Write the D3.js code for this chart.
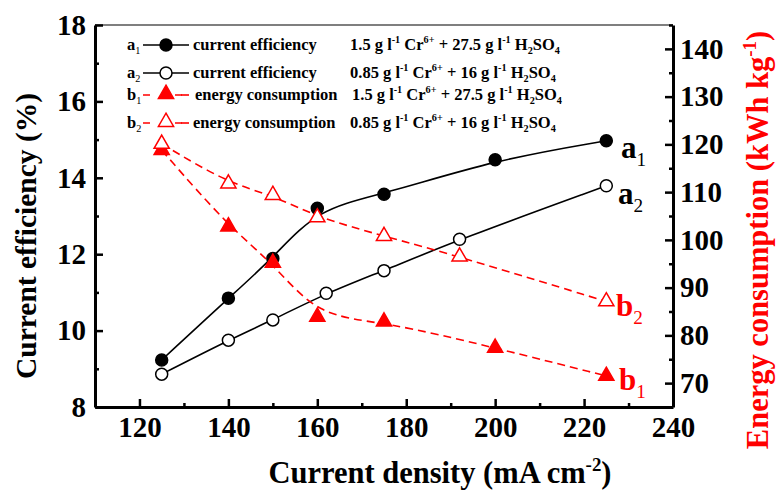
<!DOCTYPE html>
<html>
<head>
<meta charset="utf-8">
<script src="https://cdn.jsdelivr.net/npm/d3@7"></script>
<style>
  body { margin: 0; background: #fff; }
  svg { display: block; font-family: "Liberation Serif", "Times New Roman", serif; }
  text { font-family: "Liberation Serif", "Times New Roman", serif; }
</style>
</head>
<body>
<svg id="chart" width="776" height="491"></svg>
<script>
// current density (mA cm-2) and measured values
const xA1 = [125, 140, 150, 160, 175, 200, 225];
const yA1 = [9.23, 10.85, 11.89, 13.2, 13.57, 14.47, 14.97];
const xA2 = [125, 140, 150, 162, 175, 192, 225];
const yA2 = [8.86, 9.75, 10.28, 10.98, 11.57, 12.39, 13.79];
const xB1 = [125, 140, 150, 160, 175, 200, 225];
const yB1 = [118.8, 102.8, 95.2, 83.9, 82.9, 77.4, 71.5];
const xB2 = [125, 140, 150, 160, 175, 192, 225];
const yB2 = [120.1, 111.8, 109.4, 104.7, 100.8, 96.5, 87.1];

const xTicks = [120, 140, 160, 180, 200, 220, 240];
const xMinor = [130, 150, 170, 190, 210, 230];
const yLeftTicks = [8, 10, 12, 14, 16, 18];
const yLeftMinor = [9, 11, 13, 15, 17];
const yRightTicks = [70, 80, 90, 100, 110, 120, 130, 140];
const yRightMinor = [65, 75, 85, 95, 105, 115, 125, 135, 145];

const RED = '#ff0000';
const svg = d3.select('#chart');
svg.append('rect').attr('width', 776).attr('height', 491).attr('fill', '#fff');

const pLeft = 95, pRight = 673, pTop = 25, pBottom = 407;
const x = d3.scaleLinear().domain([110, 240]).range([pLeft, pRight]);
const yL = d3.scaleLinear().domain([8, 18]).range([pBottom, pTop]);
const yR = d3.scaleLinear().domain([65, 145]).range([pBottom, pTop]);

// write text made of normal / sup / sub parts
function rich(t, parts, size) {
    let shift = 0;
    parts.forEach(p => {
        const str = typeof p === 'string' ? p : p[0];
        const kind = typeof p === 'string' ? null : p[1];
        let target = 0;
        if (kind === 'sup') target = -0.4 * size;
        if (kind === 'sub') target = 0.25 * size;
        const ts = t.append('tspan').text(str).attr('dy', target - shift);
        if (kind) ts.attr('font-size', size * 0.62).attr('font-weight', p[2] || null);
        shift = target;
    });
}

// frame top line
svg.append('line').attr('x1', pLeft).attr('x2', pRight).attr('y1', pTop).attr('y2', pTop)
    .attr('stroke', '#000').attr('stroke-width', 1.2);

function styleAxis(g) {
    g.attr('font-family', null);
    g.select('.domain').attr('stroke-width', 3);
    g.selectAll('.tick line').attr('stroke-width', 2.5);
    g.selectAll('text').attr('font-size', 29).attr('font-weight', 'bold').attr('fill', '#000');
}

// bottom axis
const gx = svg.append('g').attr('transform', `translate(0,${pBottom})`)
    .call(d3.axisBottom(x).tickValues(xTicks).tickSizeInner(-8).tickSizeOuter(0).tickPadding(9).tickFormat(d3.format('d')));
styleAxis(gx);
svg.append('g').attr('transform', `translate(0,${pBottom})`)
    .call(d3.axisBottom(x).tickValues(xMinor).tickSize(-4).tickFormat(''))
    .call(g => { g.select('.domain').remove(); g.selectAll('line').attr('stroke-width', 2.5); });

// left axis
const gl = svg.append('g').attr('transform', `translate(${pLeft},0)`)
    .call(d3.axisLeft(yL).tickValues(yLeftTicks).tickSizeInner(-8).tickSizeOuter(0).tickPadding(9));
styleAxis(gl);
svg.append('g').attr('transform', `translate(${pLeft},0)`)
    .call(d3.axisLeft(yL).tickValues(yLeftMinor).tickSize(-4).tickFormat(''))
    .call(g => { g.select('.domain').remove(); g.selectAll('line').attr('stroke-width', 2.5); });

// right axis
const gr = svg.append('g').attr('transform', `translate(${pRight},0)`)
    .call(d3.axisRight(yR).tickValues(yRightTicks).tickSizeInner(-8).tickSizeOuter(0).tickPadding(7));
styleAxis(gr);
svg.append('g').attr('transform', `translate(${pRight},0)`)
    .call(d3.axisRight(yR).tickValues(yRightMinor).tickSize(-4).tickFormat(''))
    .call(g => { g.select('.domain').remove(); g.selectAll('line').attr('stroke-width', 2.5); });

// axis titles
const tb = svg.append('text').attr('x', 440).attr('y', 483).attr('text-anchor', 'middle')
    .attr('font-size', 30.5).attr('font-weight', 'bold');
rich(tb, ['Current density (mA cm', ['-2', 'sup'], ')'], 30.5);

svg.append('text').attr('transform', 'translate(36,236) rotate(-90)').attr('text-anchor', 'middle')
    .attr('font-size', 29.5).attr('font-weight', 'bold').text('Current efficiency (%)');

const tr = svg.append('text').attr('transform', 'translate(768,240) rotate(-90)').attr('text-anchor', 'middle')
    .attr('font-size', 30.5).attr('font-weight', 'bold').attr('fill', RED);
rich(tr, ['Energy consumption (kWh kg', ['-1', 'sup'], ')'], 30.5);

// series
const series = [
    { xs: xA1, ys: yA1, y: yL, color: '#000', dash: null, shape: 'circle', fill: '#000' },
    { xs: xA2, ys: yA2, y: yL, color: '#000', dash: null, shape: 'circle', fill: '#fff' },
    { xs: xB1, ys: yB1, y: yR, color: RED, dash: '8,5', shape: 'tri', fill: RED },
    { xs: xB2, ys: yB2, y: yR, color: RED, dash: '8,5', shape: 'tri', fill: '#fff' }
];
const tri = d3.symbol(d3.symbolTriangle).size(100);

function marker(g, s, cx, cy) {
    if (s.shape === 'circle') {
        g.append('circle').attr('cx', cx).attr('cy', cy).attr('r', 6)
            .attr('fill', s.fill).attr('stroke', s.color).attr('stroke-width', 1.5);
    } else {
        g.append('path').attr('d', tri).attr('transform', `translate(${cx},${cy})`)
            .attr('fill', s.fill).attr('stroke', s.color).attr('stroke-width', 1.5);
    }
}

series.forEach(s => {
    const pts = s.xs.map((v, i) => [x(v), s.y(s.ys[i])]);
    svg.append('path').attr('d', d3.line().curve(d3.curveBasis)(pts))
        .attr('fill', 'none').attr('stroke', s.color).attr('stroke-width', 1.6)
        .attr('stroke-dasharray', s.dash);
    const g = svg.append('g');
    pts.forEach(p => marker(g, s, p[0], p[1]));
});

// end labels
const endLabels = [
    { name: 'a', sub: '1', x: 621, y: 158, color: '#000' },
    { name: 'a', sub: '2', x: 618, y: 204, color: '#000' },
    { name: 'b', sub: '2', x: 616, y: 316, color: RED },
    { name: 'b', sub: '1', x: 619, y: 390, color: RED }
];
endLabels.forEach(l => {
    const t = svg.append('text').attr('x', l.x).attr('y', l.y).attr('font-size', 31)
        .attr('font-weight', 'bold').attr('fill', l.color);
    rich(t, [l.name, [l.sub, 'sub', 'normal']], 31);
});

// legend
const legendRows = [
    { name: 'a', sub: '1', s: series[0], y: 45, desc: 'current efficiency', descX: 193, condX: 350,
      cond: ['1.5 g l', ['-1', 'sup'], ' Cr', ['6+', 'sup'], ' + 27.5 g l', ['-1', 'sup'], ' H', ['2', 'sub'], 'SO', ['4', 'sub']] },
    { name: 'a', sub: '2', s: series[1], y: 73, desc: 'current efficiency', descX: 193, condX: 350,
      cond: ['0.85 g l', ['-1', 'sup'], ' Cr', ['6+', 'sup'], ' + 16 g l', ['-1', 'sup'], ' H', ['2', 'sub'], 'SO', ['4', 'sub']] },
    { name: 'b', sub: '1', s: series[2], y: 95, desc: 'energy consumption', descX: 195, condX: 352,
      cond: ['1.5 g l', ['-1', 'sup'], ' Cr', ['6+', 'sup'], ' + 27.5 g l', ['-1', 'sup'], ' H', ['2', 'sub'], 'SO', ['4', 'sub']] },
    { name: 'b', sub: '2', s: series[3], y: 123, desc: 'energy consumption', descX: 193, condX: 350,
      cond: ['0.85 g l', ['-1', 'sup'], ' Cr', ['6+', 'sup'], ' + 16 g l', ['-1', 'sup'], ' H', ['2', 'sub'], 'SO', ['4', 'sub']] }
];
const lg = svg.append('g').attr('font-size', 16.5).attr('font-weight', 'bold');
legendRows.forEach(r => {
    const t = lg.append('text').attr('x', 127).attr('y', r.y + 5);
    rich(t, [r.name, [r.sub, 'sub', 'normal']], 16.5);
    lg.append('line').attr('x1', 143).attr('x2', 189).attr('y1', r.y).attr('y2', r.y)
        .attr('stroke', r.s.color).attr('stroke-width', 1.6)
        .attr('stroke-dasharray', r.s.dash ? '7,25' : null);
    if (r.s.dash) {
        lg.append('line').attr('x1', 181).attr('x2', 189).attr('y1', r.y).attr('y2', r.y)
            .attr('stroke', r.s.color).attr('stroke-width', 1.6);
    }
    marker(lg, r.s, 166, r.s.shape === 'tri' ? r.y - 1 : r.y);
    lg.append('text').attr('x', r.descX).attr('y', r.y + 5).text(r.desc);
    const c = lg.append('text').attr('x', r.condX).attr('y', r.y + 5);
    rich(c, r.cond, 16.5);
});
</script>
</body>
</html>
